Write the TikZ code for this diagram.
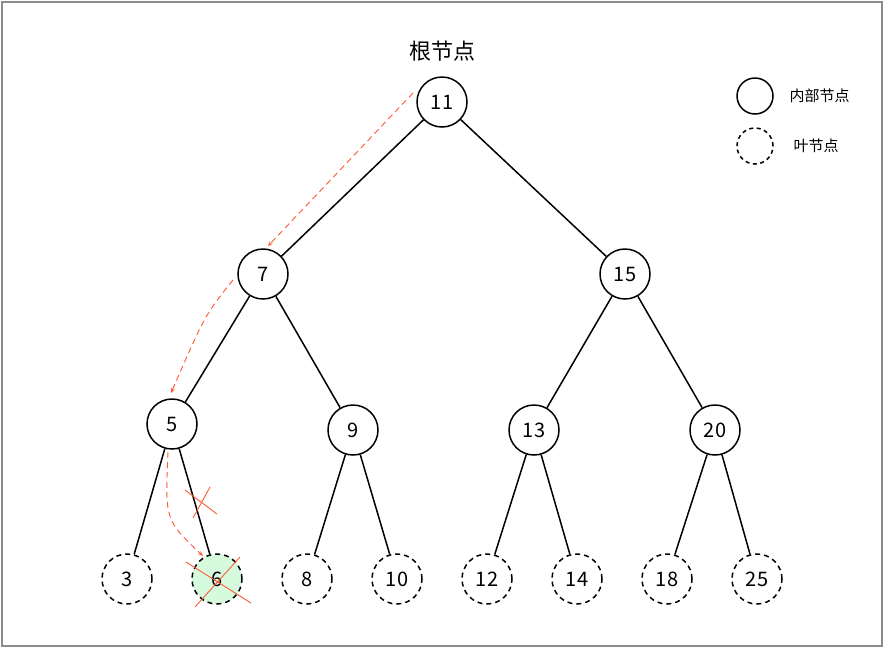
\documentclass[tikz,border=0pt]{standalone}
\usepackage{fontspec}
\setmainfont{Noto Sans CJK SC}
\usetikzlibrary{arrows.meta}
\definecolor{redline}{RGB}{255,87,51}
\definecolor{greenfill}{RGB}{214,250,222}
\begin{document}
\begin{tikzpicture}[x=1pt,y=-1pt,
  inode/.style={circle,draw,line width=1.5pt,minimum size=50pt,inner sep=0pt,font=\fontsize{20}{22}\selectfont},
  lnode/.style={inode,dashed,dash pattern=on 5pt off 4pt},
  edge/.style={line width=1.5pt},
  trace/.style={draw=redline,line width=0.9pt,dash pattern=on 6pt off 4pt,-{Stealth[length=5pt,width=4pt]}},
  cross/.style={draw=redline,line width=0.9pt}]
\useasboundingbox (0,0) rectangle (884,649);
\draw[draw={rgb,255:red,140;green,140;blue,140},line width=1.2pt] (2,2) rectangle (882,646);
\node[font=\fontsize{22}{24}\selectfont] (root) at (442,51) {根节点};
\node[inode] (n11) at (442,102) {11};
\node[inode] (n7) at (263,274) {7};
\node[inode] (n15) at (625,274) {15};
\node[inode] (n5) at (172,424) {5};
\node[inode] (n9) at (353,430) {9};
\node[inode] (n13) at (534,430) {13};
\node[inode] (n20) at (715,430) {20};
\node[lnode] (n3) at (127,579) {3};
\node[lnode,fill=greenfill] (n6) at (217,579) {6};
\node[lnode] (n8) at (307,579) {8};
\node[lnode] (n10) at (397,579) {10};
\node[lnode] (n12) at (487,579) {12};
\node[lnode] (n14) at (577,579) {14};
\node[lnode] (n18) at (667,579) {18};
\node[lnode] (n25) at (757,579) {25};
\foreach \a/\b in {n11/n7,n11/n15,n7/n5,n7/n9,n15/n13,n15/n20,n5/n3,n5/n6,n9/n8,n9/n10,n13/n12,n13/n14,n20/n18,n20/n25}
  \draw[edge] (\a) -- (\b);
% legend
\node[inode,minimum size=36pt] (legi) at (755,96) {};
\node[lnode,minimum size=36pt,dash pattern=on 4pt off 3.5pt] (legl) at (755,146) {};
\node[font=\fontsize{15}{17}\selectfont,anchor=west] (legit) at (786,96) {内部节点};
\node[font=\fontsize{15}{17}\selectfont,anchor=west] (leglt) at (790,146) {叶节点};
% search trace
\coordinate (t1s) at (413,93);
\coordinate (t1e) at (268,246);
\draw[trace] (t1s) -- (t1e);
\coordinate (t2s) at (233,280);
\coordinate (t2e) at (171,393);
\draw[trace] (t2s) .. controls (205,315) .. (t2e);
\coordinate (t3s) at (168,452);
\coordinate (t3e) at (203,556);
\draw[trace] (t3s) .. controls (165,520) .. (t3e);
% crosses
\coordinate (c1a) at (185,490); \coordinate (c1b) at (217,514);
\coordinate (c2a) at (210,487); \coordinate (c2b) at (193,518);
\draw[cross] (c1a) -- (c1b);
\draw[cross] (c2a) -- (c2b);
\coordinate (c3a) at (186,562); \coordinate (c3b) at (251,603);
\coordinate (c4a) at (240,557); \coordinate (c4b) at (195,607);
\draw[cross] (c3a) -- (c3b);
\draw[cross] (c4a) -- (c4b);
\end{tikzpicture}
\end{document}
